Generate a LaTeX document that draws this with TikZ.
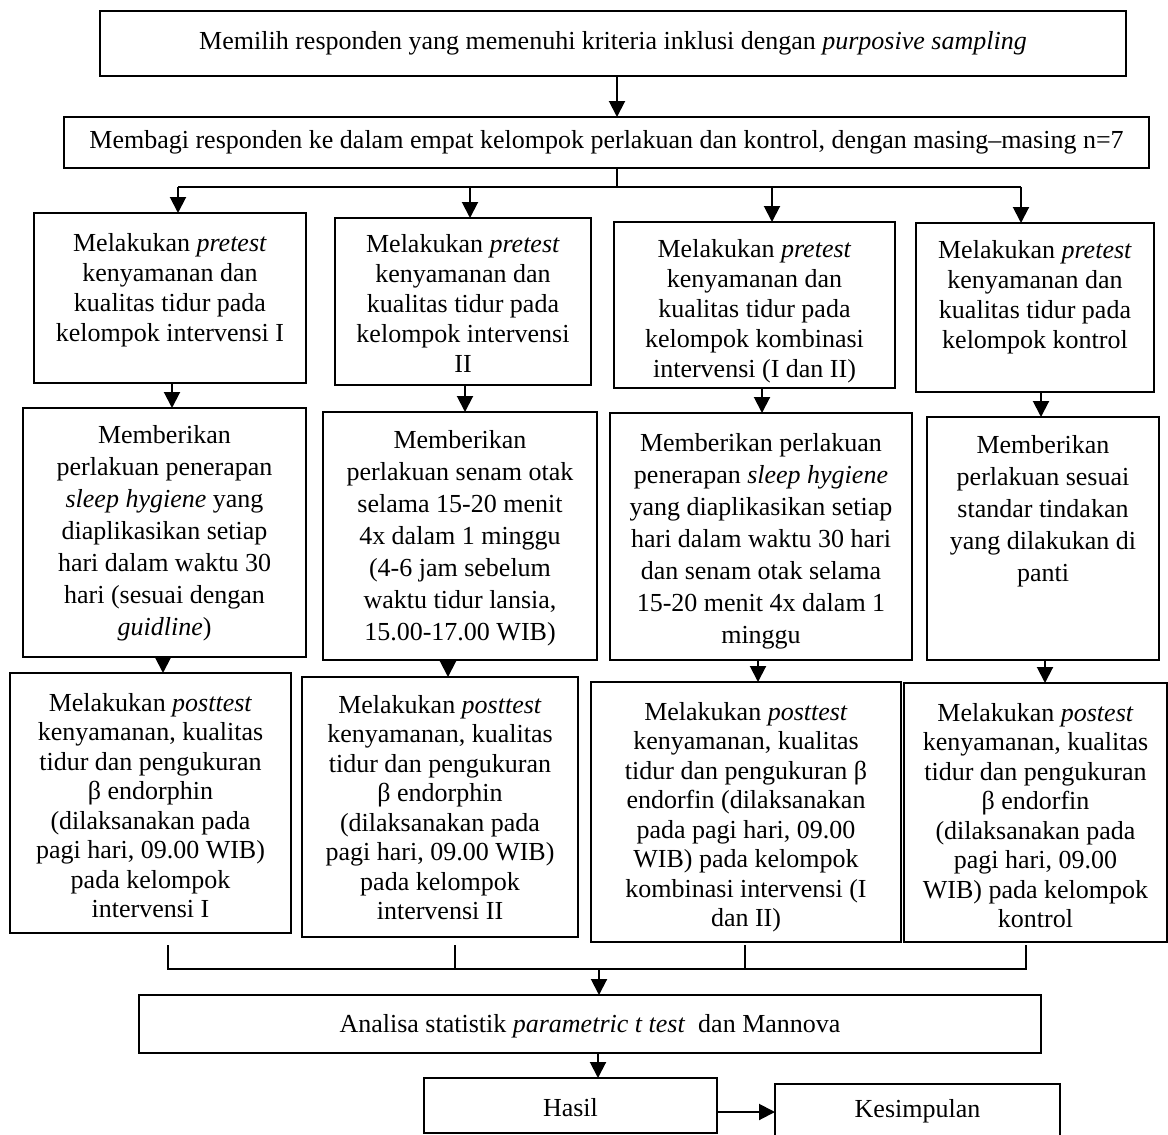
\documentclass[tikz,border=0pt]{standalone}
\usepackage{fontspec}
\setmainfont{Liberation Serif}
\usetikzlibrary{arrows.meta,fit}

\begin{document}
\begin{tikzpicture}[x=0.5pt,y=-0.5pt,
  frame/.style={draw, line width=1.3pt, inner sep=0pt, outer sep=0pt},
  linetxt/.style={inner sep=0pt, font=\fontsize{13pt}{15pt}\selectfont},
  pretxt/.style={align=center, inner sep=0pt, anchor=north,
    font=\fontsize{13pt}{15pt}\selectfont},
  treattxt/.style={align=center, inner sep=0pt, anchor=north,
    font=\fontsize{13pt}{16pt}\selectfont},
  posttxt/.style={align=center, inner sep=0pt, anchor=north,
    font=\fontsize{13pt}{14.75pt}\selectfont},
  link/.style={line width=1pt},
  arr/.style={line width=1pt, -{Triangle[length=8pt,width=8pt]}}]

\path[use as bounding box] (0,0) rectangle (1168,1135);
\clip (0,0) rectangle (1168,1135);

% ---- top of the flow ----
\node[frame, fit={(100,11) (1126,76)}] (sel) {};
\node[linetxt] (selt) at (sel.center)
  {Memilih responden yang memenuhi kriteria inklusi dengan \textit{purposive sampling}};
\node[frame, fit={(64,117) (1149,168)}] (grp) {};
\node[linetxt] (grpt) at (grp.center)
  {Membagi responden ke dalam empat kelompok perlakuan dan kontrol, dengan masing–masing n=7};

% ---- pretest boxes ----
\node[frame, fit={(34,213) (306,383)}] (p1) {};
\node[frame, fit={(335,218) (591,385)}] (p2) {};
\node[frame, fit={(614,222) (895,388)}] (p3) {};
\node[frame, fit={(916,223) (1154,392)}] (p4) {};
\node[pretxt] (p1t) at ([yshift=-10pt]p1.north)
  {Melakukan \textit{pretest}\\kenyamanan dan\\kualitas tidur pada\\kelompok intervensi I};
\node[pretxt] (p2t) at ([yshift=-8pt]p2.north)
  {Melakukan \textit{pretest}\\kenyamanan dan\\kualitas tidur pada\\kelompok intervensi\\II};
\node[pretxt] (p3t) at ([yshift=-8.5pt]p3.north)
  {Melakukan \textit{pretest}\\kenyamanan dan\\kualitas tidur pada\\kelompok kombinasi\\intervensi (I dan II)};
\node[pretxt] (p4t) at ([yshift=-8.5pt]p4.north)
  {Melakukan \textit{pretest}\\kenyamanan dan\\kualitas tidur pada\\kelompok kontrol};

% ---- treatment boxes ----
\node[frame, fit={(23,408) (306,657)}] (m1) {};
\node[frame, fit={(323,412) (597,660)}] (m2) {};
\node[frame, fit={(610,413) (912,660)}] (m3) {};
\node[frame, fit={(927,417) (1159,660)}] (m4) {};
\node[treattxt] (m1t) at ([yshift=-8.5pt]m1.north)
  {Memberikan\\perlakuan penerapan\\\textit{sleep hygiene} yang\\diaplikasikan setiap\\hari dalam waktu 30\\hari (sesuai dengan\\\textit{guidline})};
\node[treattxt] (m2t) at ([yshift=-9pt]m2.north)
  {Memberikan\\perlakuan senam otak\\selama 15-20 menit\\4x dalam 1 minggu\\(4-6 jam sebelum\\waktu tidur lansia,\\15.00-17.00 WIB)};
\node[treattxt] (m3t) at ([yshift=-10pt]m3.north)
  {Memberikan perlakuan\\penerapan \textit{sleep hygiene}\\yang diaplikasikan setiap\\hari dalam waktu 30 hari\\dan senam otak selama\\15-20 menit 4x dalam 1\\minggu};
\node[treattxt] (m4t) at ([yshift=-9pt]m4.north)
  {Memberikan\\perlakuan sesuai\\standar tindakan\\yang dilakukan di\\panti};

% ---- posttest boxes ----
\node[frame, fit={(10,673) (291,933)}] (q1) {};
\node[frame, fit={(302,677) (578,937)}] (q2) {};
\node[frame, fit={(591,682) (901,942)}] (q3) {};
\node[frame, fit={(904,683) (1167,942)}] (q4) {};
\node[posttxt] (q1t) at ([yshift=-10pt]q1.north)
  {Melakukan \textit{posttest}\\kenyamanan, kualitas\\tidur dan pengukuran\\β endorphin\\(dilaksanakan pada\\pagi hari, 09.00 WIB)\\pada kelompok\\intervensi I};
\node[posttxt] (q2t) at ([yshift=-9pt]q2.north)
  {Melakukan \textit{posttest}\\kenyamanan, kualitas\\tidur dan pengukuran\\β endorphin\\(dilaksanakan pada\\pagi hari, 09.00 WIB)\\pada kelompok\\intervensi II};
\node[posttxt] (q3t) at ([yshift=-10pt]q3.north)
  {Melakukan \textit{posttest}\\kenyamanan, kualitas\\tidur dan pengukuran β\\endorfin (dilaksanakan\\pada pagi hari, 09.00\\WIB) pada kelompok\\kombinasi intervensi (I\\dan II)};
\node[posttxt] (q4t) at ([yshift=-10pt]q4.north)
  {Melakukan \textit{postest}\\kenyamanan, kualitas\\tidur dan pengukuran\\β endorfin\\(dilaksanakan pada\\pagi hari, 09.00\\WIB) pada kelompok\\kontrol};

% ---- bottom of the flow ----
\node[frame, fit={(139,995) (1041,1053)}] (ana) {};
\node[linetxt] (anat) at ([yshift=-1pt]ana.center)
  {Analisa statistik \textit{parametric t test}\ \ dan Mannova};
\node[frame, fit={(424,1078) (717,1133)}] (has) {};
\node[linetxt] (hast) at ([yshift=-1pt]has.center) {Hasil};
\node[frame, fit={(775,1084) (1060,1140)}] (kes) {};
\node[linetxt] (kest) at ([yshift=0.5pt]kes.center) {Kesimpulan};

% ---- connector positions ----
\coordinate (xa) at (617,0);
\coordinate (split) at (617,187);
\coordinate (d1) at (178,187);
\coordinate (d2) at (470,187);
\coordinate (d3) at (772,187);
\coordinate (d4) at (1021,187);
\coordinate (pm1) at (172,0);
\coordinate (pm2) at (465,0);
\coordinate (pm3) at (762,0);
\coordinate (pm4) at (1041,0);
\coordinate (mq1) at (163,0);
\coordinate (mq2) at (448,0);
\coordinate (mq3) at (758,0);
\coordinate (mq4) at (1045,0);
\coordinate (j1) at (168,945);
\coordinate (j2) at (455,945);
\coordinate (j3) at (745,945);
\coordinate (j4) at (1026,945);
\coordinate (jm) at (0,969);
\coordinate (xc) at (599,969);
\coordinate (xh) at (598,0);
\coordinate (yk) at (0,1112);

% ---- connectors ----
\draw[arr] (sel.south -| xa) -- (grp.north -| xa);
\draw[link] (grp.south -| split) -- (split);
\draw[link] (d1) -- (d4);
\draw[arr] (d1) -- (p1.north -| d1);
\draw[arr] (d2) -- (p2.north -| d2);
\draw[arr] (d3) -- (p3.north -| d3);
\draw[arr] (d4) -- (p4.north -| d4);

\draw[arr] (p1.south -| pm1) -- (m1.north -| pm1);
\draw[arr] (p2.south -| pm2) -- (m2.north -| pm2);
\draw[arr] (p3.south -| pm3) -- (m3.north -| pm3);
\draw[arr] (p4.south -| pm4) -- (m4.north -| pm4);

\draw[arr] (m1.south -| mq1) -- (q1.north -| mq1);
\draw[arr] (m2.south -| mq2) -- (q2.north -| mq2);
\draw[arr] (m3.south -| mq3) -- (q3.north -| mq3);
\draw[arr] (m4.south -| mq4) -- (q4.north -| mq4);

\draw[link] (j1) -- (j1 |- jm) -- (j4 |- jm) -- (j4);
\draw[link] (j2) -- (j2 |- jm);
\draw[link] (j3) -- (j3 |- jm);
\draw[arr] (xc) -- (ana.north -| xc);
\draw[arr] (ana.south -| xh) -- (has.north -| xh);
\draw[arr] (has.east |- yk) -- (kes.west |- yk);

\end{tikzpicture}
\end{document}
